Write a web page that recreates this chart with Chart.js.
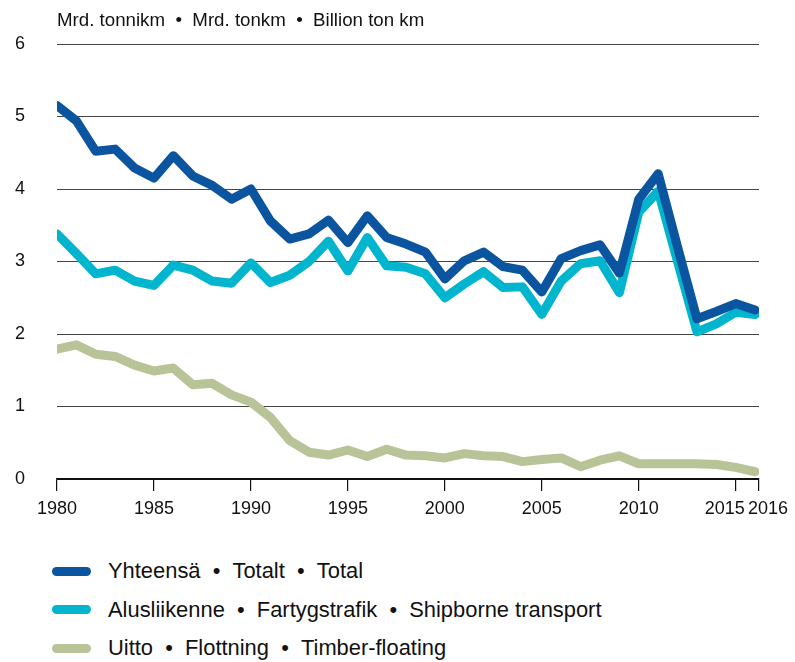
<!DOCTYPE html>
<html>
<head>
<meta charset="utf-8">
<script src="https://cdn.jsdelivr.net/npm/chart.js@4"></script>
<style>
  body { margin: 0; background: #fff; font-family: "Liberation Sans", Arial, sans-serif; }
  #wrap { position: relative; width: 795px; height: 662px; }
  #chart-box { position: absolute; left: 0; top: 0; width: 795px; height: 530px; }
  .unit { position: absolute; left: 57px; top: 9px; font-size: 18.7px; color: #111; white-space: nowrap; }
  .legend { position: absolute; left: 52px; top: 552px; }
  .leg-row { display: flex; align-items: center; height: 38.5px; font-size: 21.9px; color: #111; white-space: nowrap; }
  .leg-sw { width: 39px; height: 9px; border-radius: 5px; margin-right: 17px; }
</style>
</head>
<body>
<div id="wrap">
  <div id="chart-box"><canvas id="trafficChart"></canvas></div>
  <div class="unit">Mrd. tonnikm &nbsp;•&nbsp; Mrd. tonkm &nbsp;•&nbsp; Billion ton km</div>
  <div class="legend" id="legend"></div>
</div>
<script>
const years = [1980, 1981, 1982, 1983, 1984, 1985, 1986, 1987, 1988, 1989,
  1990, 1991, 1992, 1993, 1994, 1995, 1996, 1997, 1998, 1999,
  2000, 2001, 2002, 2003, 2004, 2005, 2006, 2007, 2008, 2009,
  2010, 2011, 2012, 2013, 2014, 2015, 2016];
const totalValues = [5.15, 4.94, 4.52, 4.55, 4.29, 4.15, 4.46, 4.18, 4.05, 3.86,
  4.0, 3.56, 3.31, 3.38, 3.57, 3.26, 3.63, 3.33, 3.24, 3.13,
  2.76, 3.01, 3.13, 2.93, 2.88, 2.58, 3.04, 3.15, 3.23, 2.84,
  3.86, 4.21, 3.2, 2.21, 2.31, 2.42, 2.33];
const shipValues = [3.38, 3.11, 2.83, 2.88, 2.73, 2.67, 2.95, 2.88, 2.73, 2.7,
  2.98, 2.71, 2.81, 3.0, 3.28, 2.87, 3.33, 2.94, 2.92, 2.83,
  2.5, 2.69, 2.86, 2.64, 2.65, 2.27, 2.73, 2.97, 3.01, 2.57,
  3.68, 3.97, 3.0, 2.03, 2.14, 2.3, 2.27];
const timberValues = [1.79, 1.85, 1.72, 1.69, 1.57, 1.49, 1.53, 1.3, 1.32, 1.16,
  1.06, 0.85, 0.53, 0.37, 0.33, 0.4, 0.31, 0.41, 0.33, 0.32,
  0.29, 0.35, 0.32, 0.31, 0.24, 0.27, 0.29, 0.17, 0.26, 0.32,
  0.21, 0.21, 0.21, 0.21, 0.2, 0.16, 0.1];
const xTickLabels = ["1980", "1985", "1990", "1995", "2000", "2005", "2010", "2015", "2016"];
const yTicks = [0, 1, 2, 3, 4, 5, 6];
const seriesNames = [
  "Yhteensä  •  Totalt  •  Total",
  "Alusliikenne  •  Fartygstrafik  •  Shipborne transport",
  "Uitto  •  Flottning  •  Timber-floating"
];
const seriesColors = ["#0b55a0", "#00b5cd", "#b9c398"];

// the axis runs a little past the last year; the "2016" tick sits on its end
const xMin = 1980, xMax = 2016.2;

const toPoints = vals => vals.map((v, i) => ({ x: years[i], y: v }));
const allSeries = [totalValues, shipValues, timberValues];

const legend = document.getElementById("legend");
seriesNames.forEach((name, i) => {
  const row = document.createElement("div");
  row.className = "leg-row";
  row.innerHTML = `<span class="leg-sw" style="background:${seriesColors[i]}"></span><span>${name.replace(/  /g, " &nbsp;")}</span>`;
  legend.appendChild(row);
});

const fontFamily = '"Liberation Sans", Arial, sans-serif';
const font = { family: fontFamily, size: 18 };

const tickValue = label => (label === "2016" ? xMax : Number(label));

// x labels drawn by hand so 2015 / 2016 can be nudged apart like the original
const xLabelPlugin = {
  id: "xLabels",
  afterDraw(chart) {
    const { ctx, scales: { x }, chartArea } = chart;
    ctx.save();
    ctx.font = `18px ${fontFamily}`;
    ctx.fillStyle = "#111";
    ctx.textAlign = "center";
    ctx.textBaseline = "middle";
    xTickLabels.forEach(lbl => {
      let px = x.getPixelForValue(tickValue(lbl));
      if (lbl === "2015") px -= 11;
      if (lbl === "2016") px += 9;
      ctx.fillText(lbl, px, chartArea.bottom + 30);
    });
    ctx.restore();
  },
};

new Chart(document.getElementById("trafficChart"), {
  type: "line",
  data: {
    datasets: allSeries.map((vals, i) => ({
      label: seriesNames[i],
      data: toPoints(vals),
      borderColor: seriesColors[i],
      borderWidth: 9,
      borderJoinStyle: "round",
      borderCapStyle: "round",
      pointRadius: 0,
      tension: 0,
      fill: false,
    })),
  },
  plugins: [xLabelPlugin],
  options: {
    responsive: true,
    maintainAspectRatio: false,
    animation: false,
    layout: { padding: { left: 11, right: 36, top: 44, bottom: 0 } },
    plugins: { legend: { display: false }, tooltip: { enabled: false } },
    scales: {
      x: {
        type: "linear",
        min: xMin,
        max: xMax,
        afterBuildTicks: axis => { axis.ticks = xTickLabels.map(l => ({ value: tickValue(l) })); },
        afterFit: axis => { axis.height = 51; },
        ticks: { display: false },
        grid: { drawOnChartArea: false, drawTicks: true, tickLength: 12, color: "#111", lineWidth: 1.2 },
        border: { display: true, color: "#111", width: 1.5 },
      },
      y: {
        min: 0,
        max: 6,
        afterBuildTicks: axis => { axis.ticks = yTicks.map(v => ({ value: v })); },
        afterFit: axis => { axis.width = 46; },
        ticks: { color: "#111", font, padding: 32 },
        grid: { drawTicks: false, color: ctx => ctx.tick && ctx.tick.value === 0 ? "#111" : "#444", lineWidth: 1 },
        border: { display: false },
      },
    },
  },
});
</script>
</body>
</html>
